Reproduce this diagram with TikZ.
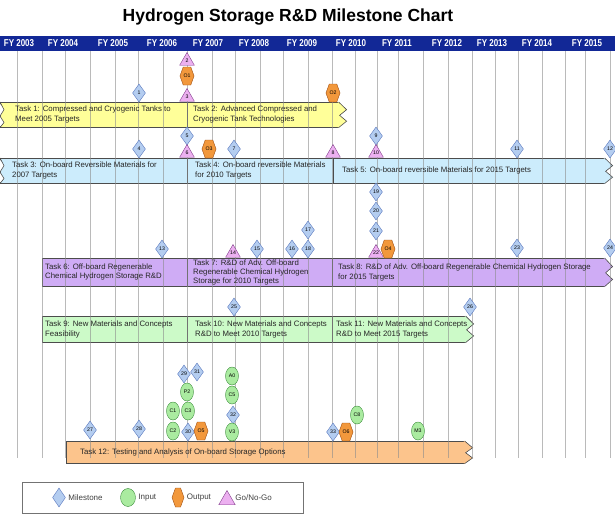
\documentclass[tikz,border=0pt]{standalone}
\usepackage{fontspec}
\setmainfont{Liberation Sans}
\newfontfamily\narrowfont[FakeStretch=0.8]{Liberation Sans}
\usetikzlibrary{positioning}
\usetikzlibrary{shapes.geometric}
\usetikzlibrary{shapes.symbols}
\usetikzlibrary{calc}
\definecolor{headerblue}{RGB}{18,40,150}
\definecolor{rowyellow}{RGB}{255,255,153}
\definecolor{rowblue}{RGB}{204,236,252}
\definecolor{rowpurple}{RGB}{207,172,245}
\definecolor{rowgreen}{RGB}{204,250,200}
\definecolor{roworange}{RGB}{252,196,140}
\definecolor{msfill}{RGB}{180,205,240}
\definecolor{msborder}{RGB}{90,120,190}
\definecolor{infill}{RGB}{170,235,160}
\definecolor{inborder}{RGB}{60,140,60}
\definecolor{outfill}{RGB}{242,152,60}
\definecolor{outborder}{RGB}{160,80,20}
\definecolor{ggfill}{RGB}{236,176,240}
\definecolor{ggborder}{RGB}{130,60,140}
\newcommand{\marktext}{\fontsize{5.2}{6}\selectfont}
\newcommand{\ticketend}[2]{%
    \fill[#2] ([xshift=-0.8pt]#1.north east) -- (#1.north east)
        -- ($(#1.north east)!0.3!(#1.south east)+(8,0)$)
        -- ($(#1.north east)!0.52!(#1.south east)+(1,0)$)
        -- ($(#1.north east)!0.75!(#1.south east)+(8,0)$)
        -- (#1.south east) -- ([xshift=-0.8pt]#1.south east) -- cycle;
    \draw[barline] (#1.north east)
        -- ($(#1.north east)!0.3!(#1.south east)+(8,0)$)
        -- ($(#1.north east)!0.52!(#1.south east)+(1,0)$)
        -- ($(#1.north east)!0.75!(#1.south east)+(8,0)$)
        -- (#1.south east);}
\newcommand{\ticketstart}[1]{%
    \fill[white] ([xshift=-1pt]#1.north west)
        -- ($(#1.north west)!0.3!(#1.south west)+(4,0)$)
        -- ($(#1.north west)!0.55!(#1.south west)$)
        -- ($(#1.north west)!0.8!(#1.south west)+(4,0)$)
        -- ([xshift=-1pt]#1.south west) -- cycle;
    \draw[barline] (#1.north west)
        -- ($(#1.north west)!0.3!(#1.south west)+(4,0)$)
        -- ($(#1.north west)!0.55!(#1.south west)$)
        -- ($(#1.north west)!0.8!(#1.south west)+(4,0)$)
        -- (#1.south west);}
\tikzset{
    barline/.style = {draw=black!70, line width=0.6pt},
    taskbar/.style = {rectangle, barline, inner sep=0pt, anchor=north west},
    tasktext/.style = {inner sep=0pt, align=left, text=black!85, font=\fontsize{7.8}{10}\selectfont},
    gridline/.style = {draw=black!45, line width=0.7pt, opacity=0.6},
    yearlabel/.style = {text=white, inner sep=0pt, font=\narrowfont\bfseries\fontsize{10}{11}\selectfont},
    milestone/.style = {diamond, draw=msborder, fill=msfill, inner sep=0pt, minimum width=13pt, minimum height=18pt, font=\marktext},
    inputmark/.style = {ellipse, draw=inborder, fill=infill, inner sep=0pt, minimum width=13pt, minimum height=18pt, font=\marktext},
    outputmark/.style = {signal, signal to=east and west, signal pointer angle=140, draw=outborder, fill=outfill, inner sep=0.3pt, minimum width=12pt, minimum height=18pt, font=\marktext},
    gonogo/.style = {regular polygon, regular polygon sides=3, draw=ggborder, fill=ggfill, inner sep=0pt, minimum size=17pt, font=\marktext},
    legtext/.style = {inner sep=0pt, text=black!75, font=\fontsize{8}{9}\selectfont}}

\begin{document}
\begin{tikzpicture}[x=1pt, y=-1pt]
    \useasboundingbox (0,0) rectangle (615,519);
    \node[font=\fontsize{17.5}{20}\bfseries\selectfont] (title) at (288,17) {Hydrogen Storage R\&D Milestone Chart};
    \fill[headerblue] (0,36) rectangle (615,51);
    \path (19,43.5) node[yearlabel] (fy03) {FY 2003}
        (63,43.5) node[yearlabel] (fy04) {FY 2004}
        (113,43.5) node[yearlabel] (fy05) {FY 2005}
        (162,43.5) node[yearlabel] (fy06) {FY 2006}
        (208,43.5) node[yearlabel] (fy07) {FY 2007}
        (254,43.5) node[yearlabel] (fy08) {FY 2008}
        (302,43.5) node[yearlabel] (fy09) {FY 2009}
        (351,43.5) node[yearlabel] (fy10) {FY 2010}
        (397,43.5) node[yearlabel] (fy11) {FY 2011}
        (447,43.5) node[yearlabel] (fy12) {FY 2012}
        (492,43.5) node[yearlabel] (fy13) {FY 2013}
        (537,43.5) node[yearlabel] (fy14) {FY 2014}
        (587,43.5) node[yearlabel] (fy15) {FY 2015};

    \node[taskbar, fill=rowyellow, minimum width=187pt, minimum height=25pt] (t1) at (0,102) {};
    \node[taskbar, fill=rowyellow, minimum width=151pt, minimum height=25pt] (t2) at (187,102) {};
    \node[taskbar, fill=rowblue, minimum width=187pt, minimum height=25pt] (t3) at (0,158) {};
    \node[taskbar, fill=rowblue, minimum width=146pt, minimum height=25pt] (t4) at (187,158) {};
    \node[taskbar, fill=rowblue, minimum width=271pt, minimum height=25pt] (t5) at (333,158) {};
    \node[taskbar, fill=rowpurple, minimum width=145pt, minimum height=28pt] (t6) at (42,258) {};
    \node[taskbar, fill=rowpurple, minimum width=145pt, minimum height=28pt] (t7) at (187,258) {};
    \node[taskbar, fill=rowpurple, minimum width=272pt, minimum height=28pt] (t8) at (332,258) {};
    \node[taskbar, fill=rowgreen, minimum width=145pt, minimum height=26pt] (t9) at (42,316) {};
    \node[taskbar, fill=rowgreen, minimum width=145pt, minimum height=26pt] (t10) at (187,316) {};
    \node[taskbar, fill=rowgreen, minimum width=133pt, minimum height=26pt] (t11) at (332,316) {};
    \node[taskbar, fill=roworange, minimum width=398pt, minimum height=22pt] (t12) at (66,441) {};
    \ticketstart{t1}
    \ticketstart{t3}
    \ticketend{t2}{rowyellow}
    \ticketend{t5}{rowblue}
    \ticketend{t8}{rowpurple}
    \ticketend{t11}{rowgreen}
    \ticketend{t12}{roworange}

    \draw[gridline] (17,51) -- +(0,407) (42,51) -- +(0,407) (65,51) -- +(0,407)
        (90,51) -- +(0,407) (115,51) -- +(0,407) (138,51) -- +(0,407)
        (163,51) -- +(0,407) (187,51) -- +(0,407) (212,51) -- +(0,407)
        (235,51) -- +(0,407) (260,51) -- +(0,407) (283,51) -- +(0,407)
        (308,51) -- +(0,407) (332,51) -- +(0,407) (355,51) -- +(0,407)
        (377,51) -- +(0,407) (398,51) -- +(0,407) (423,51) -- +(0,407)
        (448,51) -- +(0,407) (472,51) -- +(0,407) (495,51) -- +(0,407)
        (518,51) -- +(0,407) (542,51) -- +(0,407) (565,51) -- +(0,407)
        (585,51) -- +(0,407) (610,51) -- +(0,407);

    \node[tasktext, right=15pt of t1.west] (t1txt) {Task 1: Compressed and Cryogenic Tanks to\\Meet 2005 Targets};
    \node[tasktext, right=6pt of t2.west] (t2txt) {Task 2: Advanced Compressed and\\Cryogenic Tank Technologies};
    \node[tasktext, right=12pt of t3.west] (t3txt) {Task 3: On-board Reversible Materials for\\2007 Targets};
    \node[tasktext, right=8pt of t4.west] (t4txt) {Task 4: On-board reversible Materials\\for 2010 Targets};
    \node[tasktext, right=9pt of t5.west] (t5txt) {Task 5: On-board reversible Materials for 2015 Targets};
    \node[tasktext, right=3pt of t6.west, font=\fontsize{7.8}{8.7}\selectfont] (t6txt) {Task 6: Off-board Regenerable\\Chemical Hydrogen Storage R\&D};
    \node[tasktext, right=6pt of t7.west, font=\fontsize{7.8}{8.7}\selectfont] (t7txt) {Task 7: R\&D of Adv. Off-board\\Regenerable Chemical Hydrogen\\Storage for 2010 Targets};
    \node[tasktext, right=6pt of t8.west] (t8txt) {Task 8: R\&D of Adv. Off-board Regenerable Chemical Hydrogen Storage\\for 2015 Targets};
    \node[tasktext, right=3pt of t9.west] (t9txt) {Task 9: New Materials and Concepts\\Feasibility};
    \node[tasktext, right=8pt of t10.west] (t10txt) {Task 10: New Materials and Concepts\\R\&D to Meet 2010 Targets};
    \node[tasktext, right=4pt of t11.west] (t11txt) {Task 11: New Materials and Concepts\\R\&D to Meet 2015 Targets};
    \node[tasktext, right=14pt of t12.west] (t12txt) {Task 12: Testing and Analysis of On-board Storage Options};

    \path (139,93) node[milestone] (m1) {1}
        (187,61) node[gonogo] (g2) {2}
        (187,76) node[outputmark] (o1) {O1}
        (187,97) node[gonogo] (g3) {3}
        (333,93) node[outputmark] (o2) {O2}
        (139,149) node[milestone] (m4) {4}
        (187,136) node[milestone] (m5) {5}
        (187,153) node[gonogo] (g6) {6}
        (209,149) node[outputmark] (o3) {O3}
        (234,149) node[milestone] (m7) {7}
        (333,153) node[gonogo] (g8) {8}
        (376,136) node[milestone] (m9) {9}
        (376,153) node[gonogo] (g10) {10}
        (517,149) node[milestone] (m11) {11}
        (610,149) node[milestone] (m12) {12}
        (162,249) node[milestone] (m13) {13}
        (233,253) node[gonogo] (g14) {14}
        (257,249) node[milestone] (m15) {15}
        (292,249) node[milestone] (m16) {16}
        (308,230) node[milestone] (m17) {17}
        (308,249) node[milestone] (m18) {18}
        (376,192) node[milestone] (m19) {19}
        (376,211) node[milestone] (m20) {20}
        (376,231) node[milestone] (m21) {21}
        (376,253) node[gonogo] (g22) {22}
        (388,249) node[outputmark] (o4) {O4}
        (517,248) node[milestone] (m23) {23}
        (610,248) node[milestone] (m24) {24}
        (234,307) node[milestone] (m25) {25}
        (470,307) node[milestone] (m26) {26}
        (90,430) node[milestone] (m27) {27}
        (139,429) node[milestone] (m28) {28}
        (184,374) node[milestone] (m29) {29}
        (197,372) node[milestone] (m31) {31}
        (187,392) node[inputmark] (ip2) {P2}
        (173,411) node[inputmark] (ic1) {C1}
        (188,411) node[inputmark] (ic3) {C3}
        (173,431) node[inputmark] (ic2) {C2}
        (188,432) node[milestone] (m30) {30}
        (201,431) node[outputmark] (o5) {O5}
        (232,376) node[inputmark] (ia0) {A0}
        (232,395) node[inputmark] (ic5) {C5}
        (233,415) node[milestone] (m32) {32}
        (232,432) node[inputmark] (iv3) {V3}
        (333,432) node[milestone] (m33) {33}
        (346,432) node[outputmark] (o6) {O6}
        (357,415) node[inputmark] (ic8) {C8}
        (418,431) node[inputmark] (im3) {M3};

    \node[draw=black!55, line width=0.6pt, minimum width=281pt, minimum height=31pt, inner sep=0pt, anchor=north west] (legend) at (22,482) {};
    \node[milestone, minimum width=13pt, minimum height=19pt] (lgms) at (59,497.5) {};
    \node[legtext, right=2.5pt of lgms] (lgmstxt) {Milestone};
    \node[inputmark, minimum width=15pt] (lgin) at (128,497.5) {};
    \node[legtext, right=2.5pt of lgin] (lgintxt) {Input};
    \node[outputmark, minimum height=19pt] (lgout) at (178,497.5) {};
    \node[legtext, right=2.5pt of lgout] (lgouttxt) {Output};
    \node[gonogo, minimum size=19pt] (lggg) at (227,500) {};
    \node[legtext, anchor=west, xshift=2.5pt] (lgggtxt) at (lggg.east |- lgms) {Go/No-Go};
\end{tikzpicture}
\end{document}
